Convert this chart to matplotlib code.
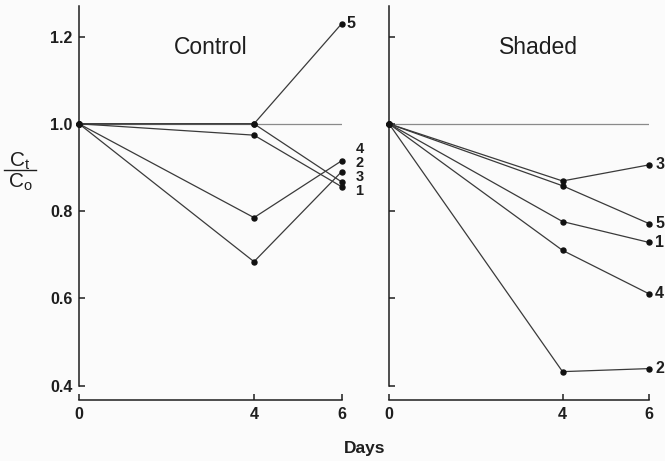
import matplotlib
matplotlib.use("Agg")
import matplotlib.pyplot as plt
from matplotlib.lines import Line2D

plt.rcParams['font.family'] = ['Liberation Sans', 'DejaVu Sans']
plt.rcParams['mathtext.fontset'] = 'custom'
plt.rcParams['mathtext.rm'] = 'Liberation Sans'
plt.rcParams['mathtext.it'] = 'Liberation Sans'

days = [0, 4, 6]
series_ids = ['1', '2', '3', '4', '5']

control_1 = [1.0, 0.974, 0.856]
control_2 = [1.0, 0.684, 0.890]
control_3 = [1.0, 1.0, 0.867]
control_4 = [1.0, 0.785, 0.915]
control_5 = [1.0, 1.0, 1.229]

shaded_1 = [1.0, 0.776, 0.728]
shaded_2 = [1.0, 0.432, 0.439]
shaded_3 = [1.0, 0.869, 0.906]
shaded_4 = [1.0, 0.710, 0.610]
shaded_5 = [1.0, 0.858, 0.771]

reference_level = 1.0
yticks = [0.4, 0.6, 0.8, 1.0, 1.2]
xticks = [0, 4, 6]

control = [control_1, control_2, control_3, control_4, control_5]
shaded = [shaded_1, shaded_2, shaded_3, shaded_4, shaded_5]

# label offsets (points) for end-of-line series numbers; the four
# clustered control labels are stacked above/below their points
control_offsets = {'1': (13, -3.2), '2': (13, 6.3), '3': (13, 3.4),
                   '4': (13, 8.7), '5': (7, 0)}
control_sizes = {'1': 10.5, '2': 10.5, '3': 10.5, '4': 10.5, '5': 11.5}
shaded_offsets = {k: (7.5, 0) for k in series_ids}
shaded_sizes = {k: 11.5 for k in series_ids}

ink = '#1e1e1e'
line_c = '#3a3a3a'
label_size = 11.5

fig = plt.figure(figsize=(6.65, 4.61), dpi=100, facecolor='#fbfbfb')
ax_l = fig.add_axes([79 / 665, 61 / 461, 262.5 / 665, 394 / 461])
ax_r = fig.add_axes([389 / 665, 61 / 461, 260.3 / 665, 394 / 461])


def draw_panel(ax, data, offsets, sizes, title, title_x, show_labels):
    ax.set_facecolor('none')
    ax.plot([days[0], days[-1]], [reference_level, reference_level],
            color='#8a8a8a', lw=0.9, zorder=1)
    for sid, vals in zip(series_ids, data):
        ax.plot(days, vals, color=line_c, lw=0.9, marker='o', ms=3.6,
                mfc='#111111', mec='#111111', zorder=3, clip_on=False)
        ax.annotate(sid, (days[-1], vals[-1]), xytext=offsets[sid],
                    textcoords='offset points', ha='center', va='center',
                    fontsize=sizes[sid], fontweight='bold', color=ink,
                    annotation_clip=False)
    ax.set_xlim(0, 6)
    ax.set_ylim(0.367, 1.27)
    for s in ('top', 'right'):
        ax.spines[s].set_visible(False)
    ax.spines['left'].set_bounds(0.4, 1.27)
    ax.spines['bottom'].set_bounds(0, 6)
    for s in ('left', 'bottom'):
        ax.spines[s].set_color(ink)
        ax.spines[s].set_linewidth(1.1)
    ax.set_xticks(xticks)
    ax.set_yticks(yticks)
    ax.tick_params(axis='both', direction='in', length=4, width=1.1,
                   color=ink, labelcolor=ink, labelsize=label_size)
    ax.tick_params(axis='y', pad=4.5)
    ax.tick_params(axis='x', pad=5)
    for lab in ax.get_xticklabels() + ax.get_yticklabels():
        lab.set_fontweight('bold')
    if show_labels:
        ax.set_yticklabels([f'{v:.1f}' for v in yticks])
    else:
        ax.set_yticklabels([])
    ax.text(title_x, 1.174, title, ha='center', va='center', fontsize=16.5,
            color=ink)


draw_panel(ax_l, control, control_offsets, control_sizes, 'Control', 3.0, True)
draw_panel(ax_r, shaded, shaded_offsets, shaded_sizes, 'Shaded', 3.45, False)

fig.text(365 / 665, 1 - 448 / 461, 'Days', ha='center', va='center',
         fontsize=12.5, fontweight='bold', color=ink)

# y-axis label drawn as a stacked fraction C_t / C_o
fig.text(20 / 665, 1 - 161 / 461, r'$\mathregular{C_t}$', ha='center',
         va='center', fontsize=15, color=ink)
fig.text(20 / 665, 1 - 182 / 461, r'$\mathregular{C_o}$', ha='center',
         va='center', fontsize=15, color=ink)
fig.add_artist(Line2D([4 / 665, 36 / 665], [1 - 170 / 461, 1 - 170 / 461],
                      color=ink, lw=1.0, transform=fig.transFigure))

fig.savefig('out.png', dpi=100, facecolor=fig.get_facecolor())
